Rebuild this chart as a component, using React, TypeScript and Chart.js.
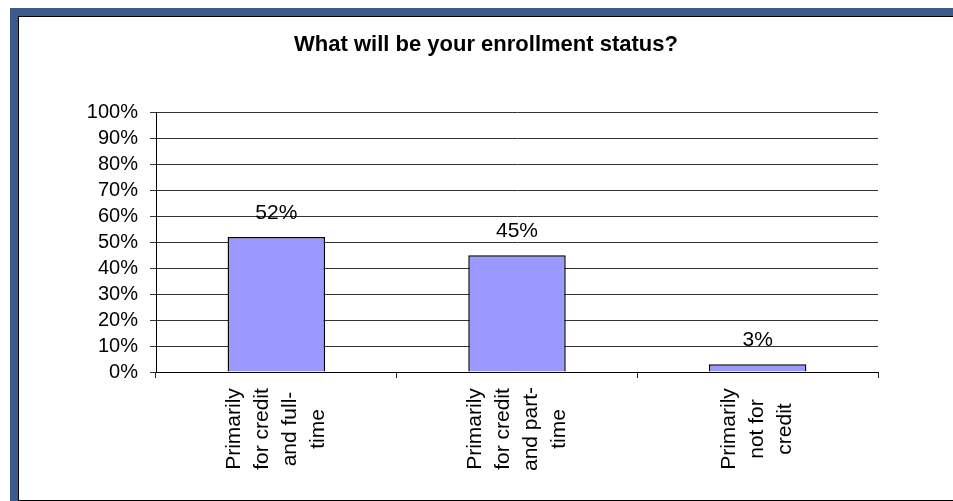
import React, { useEffect, useRef } from "react";
import { Chart, registerables } from "chart.js";

Chart.register(...registerables);

const titleText = "What will be your enrollment status?";
const categories: string[][] = [
  ["Primarily", "for credit", "and full-", "time"],
  ["Primarily", "for credit", "and part-", "time"],
  ["Primarily", "not for", "credit"],
];
const values: number[] = [52, 45, 3];
const yTicks: number[] = [0, 10, 20, 30, 40, 50, 60, 70, 80, 90, 100];

const FONT = "'Liberation Sans', Arial, Helvetica, sans-serif";
const BLUE = "#3D5A8C";

const labelPlugin = {
  id: "customLabels",
  afterDraw(chart: any) {
    const ctx = chart.ctx;
    const xs = chart.scales.x;
    const ys = chart.scales.y;
    ctx.save();
    ctx.fillStyle = "#000";
    ctx.font = `21px ${FONT}`;
    ctx.textAlign = "center";
    ctx.textBaseline = "middle";
    values.forEach((v, i) => {
      const x = xs.getPixelForValue(i);
      const y = ys.getPixelForValue(v);
      ctx.fillText(v + "%", x, y - 24);
    });
    ctx.font = `21px ${FONT}`;
    categories.forEach((lines, i) => {
      const x = xs.getPixelForValue(i);
      const yc = xs.top + 57;
      ctx.save();
      ctx.translate(x, yc);
      ctx.rotate(-Math.PI / 2);
      ctx.textAlign = "center";
      ctx.textBaseline = "middle";
      lines.forEach((line, j) => {
        const off = (j - (lines.length - 1) / 2) * 28;
        ctx.fillText(line, 0, off);
      });
      ctx.restore();
    });
    ctx.restore();
  },
};

function ChartView() {
  const ref = useRef<HTMLCanvasElement | null>(null);
  useEffect(() => {
    if (!ref.current) return;
    const chart = new Chart(ref.current, {
      type: "bar",
      data: {
        labels: categories.map((c) => c.join(" ")),
        datasets: [
          {
            data: values,
            backgroundColor: "#9999FF",
            borderColor: "#000000",
            borderWidth: 1.5,
            categoryPercentage: 1,
            barPercentage: 0.405,
          },
        ],
      },
      options: {
        animation: false,
        responsive: false,
        maintainAspectRatio: false,
        layout: { padding: 0 },
        plugins: {
          legend: { display: false },
          tooltip: { enabled: false },
          title: {
            display: true,
            text: titleText,
            color: "#000",
            font: { family: FONT, size: 22, weight: "bold" },
            padding: { top: 15, bottom: 54 },
          },
        },
        scales: {
          x: {
            type: "category",
            offset: true,
            grid: {
              display: true,
              offset: true,
              drawOnChartArea: false,
              drawTicks: true,
              tickLength: 6,
              color: "#222",
            },
            border: { display: true, color: "#000", width: 1 },
            ticks: { display: false },
            afterFit: (s: any) => {
              s.height = 128;
            },
          },
          y: {
            type: "linear",
            min: yTicks[0],
            max: yTicks[yTicks.length - 1],
            afterBuildTicks: (s: any) => {
              s.ticks = yTicks.map((v) => ({ value: v }));
            },
            grid: { color: "#333", tickLength: 6, lineWidth: 1 },
            border: { display: true, color: "#000", width: 1 },
            ticks: {
              color: "#000",
              padding: 12,
              autoSkip: false,
              stepSize: 10,
              font: { family: FONT, size: 20 },
              callback: (v: any) => v + "%",
            },
            afterFit: (s: any) => {
              s.width = 137;
            },
          },
          yRight: {
            type: "linear",
            position: "right",
            display: true,
            grid: { display: false, drawTicks: false },
            border: { display: false },
            ticks: { display: false },
            afterFit: (s: any) => {
              s.width = 75;
            },
          },
        },
      },
      plugins: [labelPlugin],
    } as any);
    return () => chart.destroy();
  }, []);
  return <canvas ref={ref} width={934} height={483} />;
}

export default function App() {
  const fixed: React.CSSProperties = { position: "fixed" };
  return (
    <div>
      <div style={{ ...fixed, left: 10, top: 8, width: 8, height: 493, background: BLUE }} />
      <div style={{ ...fixed, left: 10, top: 8, width: 943, height: 8, background: BLUE }} />
      <div style={{ ...fixed, left: 18, top: 16, width: 1, height: 485, background: "#000" }} />
      <div style={{ ...fixed, left: 18, top: 16, width: 935, height: 1, background: "#000" }} />
      <div style={{ ...fixed, left: 18, top: 500, width: 935, height: 1, background: "#000" }} />
      <div style={{ ...fixed, left: 19, top: 17, width: 934, height: 483, background: "#fff" }}>
        <ChartView />
      </div>
    </div>
  );
}
